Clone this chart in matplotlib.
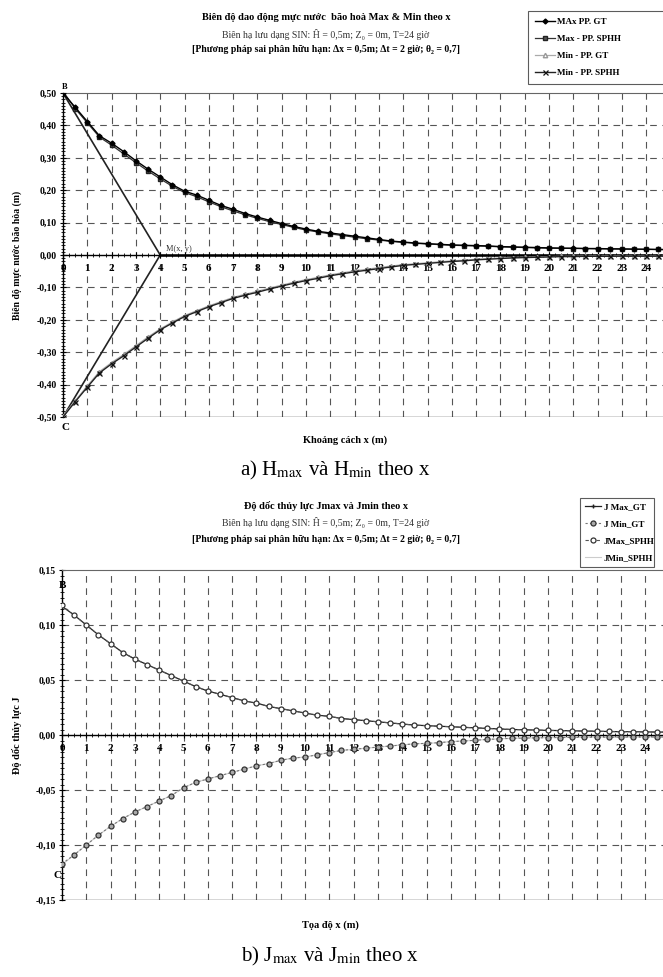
import matplotlib
matplotlib.use("Agg")
import matplotlib.pyplot as plt
import numpy as np

plt.rcParams['font.family'] = ['Liberation Serif', 'DejaVu Serif']
plt.rcParams['mathtext.fontset'] = 'stix'

# ---------------- data ----------------
x_vals = [i * 0.5 for i in range(51)]
x_ticks = list(range(0, 26))

h_max_gt = [0.500, 0.456, 0.412, 0.368, 0.345, 0.319, 0.291, 0.265, 0.241, 0.217,
            0.197, 0.185, 0.169, 0.153, 0.141, 0.128, 0.117, 0.107, 0.097, 0.088,
            0.080, 0.073, 0.068, 0.063, 0.058, 0.053, 0.048, 0.043, 0.040, 0.037,
            0.035, 0.033, 0.031, 0.030, 0.029, 0.028, 0.026, 0.025, 0.024, 0.023,
            0.022, 0.021, 0.021, 0.020, 0.020, 0.019, 0.019, 0.018, 0.018, 0.017, 0.017]
h_max_sphh = [0.505, 0.452, 0.408, 0.364, 0.339, 0.312, 0.285, 0.259, 0.235, 0.212,
              0.193, 0.180, 0.164, 0.149, 0.136, 0.124, 0.113, 0.103, 0.094, 0.085,
              0.077, 0.071, 0.065, 0.060, 0.055, 0.050, 0.046, 0.042, 0.039, 0.036,
              0.034, 0.032, 0.030, 0.029, 0.028, 0.027, 0.025, 0.024, 0.023, 0.022,
              0.021, 0.021, 0.020, 0.020, 0.019, 0.019, 0.018, 0.018, 0.017, 0.017, 0.016]
h_min_gt = [-0.497, -0.450, -0.404, -0.360, -0.332, -0.307, -0.280, -0.253, -0.228, -0.207,
            -0.187, -0.172, -0.157, -0.144, -0.131, -0.121, -0.112, -0.102, -0.093, -0.084,
            -0.076, -0.069, -0.061, -0.055, -0.049, -0.044, -0.039, -0.034, -0.030, -0.027,
            -0.024, -0.021, -0.018, -0.016, -0.013, -0.011, -0.009, -0.008, -0.007, -0.006,
            -0.005, -0.004, -0.004, -0.003, -0.003, -0.003, -0.002, -0.002, -0.002, -0.002, -0.001]
h_min_sphh = [-0.500, -0.453, -0.408, -0.364, -0.336, -0.311, -0.284, -0.257, -0.231, -0.210,
              -0.190, -0.175, -0.160, -0.147, -0.134, -0.124, -0.115, -0.105, -0.096, -0.087,
              -0.079, -0.072, -0.064, -0.058, -0.052, -0.047, -0.042, -0.037, -0.032, -0.029,
              -0.026, -0.023, -0.020, -0.018, -0.015, -0.013, -0.011, -0.009, -0.008, -0.007,
              -0.006, -0.005, -0.005, -0.004, -0.004, -0.004, -0.003, -0.003, -0.003, -0.003, -0.002]

# construction lines B-M-C (M at x=4 on the zero line)
guide_x = [0, 4, 0]
guide_y = [0.5, 0.0, -0.5]
zero_x = [4, 26]
zero_y = [0.0, 0.0]

j_max_gt = [0.117, 0.109, 0.100, 0.091, 0.083, 0.075, 0.069, 0.064, 0.059, 0.054,
            0.049, 0.044, 0.040, 0.037, 0.034, 0.031, 0.029, 0.026, 0.024, 0.022,
            0.020, 0.018, 0.017, 0.015, 0.014, 0.013, 0.012, 0.011, 0.010, 0.009,
            0.0085, 0.008, 0.0075, 0.007, 0.0065, 0.006, 0.0055, 0.005, 0.0048, 0.0045,
            0.0042, 0.004, 0.0038, 0.0036, 0.0034, 0.0032, 0.003, 0.003, 0.0028, 0.0027, 0.0026]
j_max_sphh = [0.118, 0.109, 0.100, 0.091, 0.083, 0.075, 0.069, 0.064, 0.059, 0.054,
              0.049, 0.044, 0.040, 0.037, 0.034, 0.031, 0.029, 0.026, 0.024, 0.022,
              0.020, 0.018, 0.017, 0.015, 0.014, 0.013, 0.012, 0.011, 0.010, 0.009,
              0.0085, 0.008, 0.0075, 0.007, 0.0065, 0.006, 0.0055, 0.005, 0.0048, 0.0045,
              0.0042, 0.004, 0.0038, 0.0036, 0.0034, 0.0032, 0.003, 0.003, 0.0028, 0.0027, 0.0026]
j_min_gt = [-0.117, -0.109, -0.100, -0.091, -0.083, -0.076, -0.070, -0.065, -0.060, -0.055,
            -0.048, -0.043, -0.040, -0.037, -0.034, -0.031, -0.028, -0.026, -0.023, -0.021,
            -0.020, -0.018, -0.016, -0.014, -0.013, -0.012, -0.011, -0.010, -0.009, -0.008,
            -0.0076, -0.007, -0.006, -0.0055, -0.0048, -0.004, -0.0035, -0.003, -0.0028, -0.0026,
            -0.0024, -0.0023, -0.0022, -0.0021, -0.002, -0.002, -0.0019, -0.0019, -0.0018, -0.0018, -0.0018]
j_min_sphh = [-0.118, -0.109, -0.100, -0.091, -0.083, -0.076, -0.070, -0.065, -0.060, -0.055,
              -0.048, -0.043, -0.040, -0.037, -0.034, -0.031, -0.028, -0.026, -0.023, -0.021,
              -0.020, -0.018, -0.016, -0.014, -0.013, -0.012, -0.011, -0.010, -0.009, -0.008,
              -0.0076, -0.007, -0.006, -0.0055, -0.0048, -0.004, -0.0035, -0.003, -0.0028, -0.0026,
              -0.0024, -0.0023, -0.0022, -0.0021, -0.002, -0.002, -0.0019, -0.0019, -0.0018, -0.0018, -0.0018]

h_yticks = [0.5, 0.4, 0.3, 0.2, 0.1, 0.0, -0.1, -0.2, -0.3, -0.4, -0.5]
j_yticks = [0.15, 0.10, 0.05, 0.0, -0.05, -0.10, -0.15]

# ---------------- figure ----------------
W, H = 663, 977
fig = plt.figure(figsize=(W / 100, H / 100), dpi=100)
fig.patch.set_facecolor('white')


def fx(px):
    return px / W


def fy(py):
    return 1 - py / H


unit = 24.3
xmax = 26

grid_kw = dict(color='#555555', lw=0.8, linestyle=(0, (6, 5)))


def setup_axes(ax, ylo, yhi, yticks, minor_step, fmt):
    ax.set_xlim(0, xmax)
    ax.set_ylim(ylo, yhi)
    ax.set_xticks(x_ticks)
    ax.set_xticklabels([str(t) for t in x_ticks])
    ax.set_yticks(yticks)
    ax.set_yticklabels([fmt(v) for v in yticks])
    ax.set_xticks(np.arange(0, xmax + 0.01, 0.25), minor=True)
    ax.set_yticks(np.arange(ylo, yhi + 1e-9, minor_step), minor=True)
    ax.spines['bottom'].set_position(('data', 0))
    ax.spines['bottom'].set_linewidth(1.0)
    ax.spines['left'].set_linewidth(1.0)
    ax.spines['top'].set_color('#666666')
    ax.spines['right'].set_visible(False)
    ax.tick_params(axis='x', which='major', direction='inout', length=5, pad=4,
                   labelsize=8)
    ax.tick_params(axis='x', which='minor', direction='inout', length=3)
    ax.tick_params(axis='y', which='major', direction='inout', length=5, pad=2,
                   labelsize=7)
    ax.tick_params(axis='y', which='minor', direction='inout', length=3)
    for lab in ax.get_xticklabels() + ax.get_yticklabels():
        lab.set_fontweight('bold')
    for xv in x_ticks[1:]:
        ax.axvline(xv, zorder=0, **grid_kw)
    for yv in yticks:
        if ylo < yv < yhi and yv != 0:
            ax.axhline(yv, zorder=0, **grid_kw)
    ax.axhline(ylo, color='#333333', lw=1.0, zorder=1)


def comma2(v):
    return ('%.2f' % v).replace('.', ',').replace('-0,00', '0,00')


# ---------- top chart ----------
ax1 = fig.add_axes([fx(63), fy(417), 26 * unit / W, (417 - 93) / H])
setup_axes(ax1, -0.5, 0.5, h_yticks, 0.01, comma2)

ax1.plot(guide_x, guide_y, color='#222222', lw=1.2, zorder=2)
ax1.plot(zero_x, zero_y, color='black', lw=1.8, zorder=2)
l1, = ax1.plot(x_vals, h_max_gt, color='black', lw=1.0, marker='D', ms=2.5,
               mfc='black', mec='black', zorder=4, label='MAx PP. GT')
l2, = ax1.plot(x_vals, h_max_sphh, color='#333333', lw=0.9, marker='s', ms=3.3,
               mfc='#555555', mec='#222222', zorder=3, label='Max - PP. SPHH')
l3, = ax1.plot(x_vals, h_min_gt, color='#aaaaaa', lw=0.9, marker='^', ms=3.2,
               mfc='white', mec='#999999', zorder=3, label='Min - PP. GT')
l4, = ax1.plot(x_vals, h_min_sphh, color='#222222', lw=1.0, marker='x', ms=3.6,
               mew=0.9, mec='#111111', zorder=4, label='Min - PP. SPHH')

ax1.text(4.25, 0.012, 'M(x, y)', fontsize=6, color='#333333')
ax1.text(-0.05, -0.52, 'C', fontsize=8, fontweight='bold', ha='left', va='top')
ax1.text(-0.05, 0.505, 'B', fontsize=6, fontweight='bold', ha='left', va='bottom')

leg1 = fig.legend(handles=[l1, l2, l3, l4], loc='upper left',
                  bbox_to_anchor=(fx(523), fy(6), fx(150), 0.0), mode='expand',
                  prop={'weight': 'bold', 'size': 6.5}, frameon=True,
                  fancybox=False, edgecolor='#333333', handlelength=2.2,
                  labelspacing=0.95, borderpad=0.8, handletextpad=0.3)
leg1.get_frame().set_linewidth(0.8)

fig.text(fx(326), fy(17), 'Biên độ dao động mực nước  bão hoà Max & Min theo x',
         ha='center', va='center', fontsize=7.5, fontweight='bold')
fig.text(fx(326), fy(34), 'Biên hạ lưu dạng SIN: Ĥ = 0,5m; Z₀ = 0m, T=24 giờ',
         ha='center', va='center', fontsize=7, color='#333333')
fig.text(fx(326), fy(50), '[Phương pháp sai phân hữu hạn: Δx = 0,5m; Δt = 2 giờ; θ₂ = 0,7]',
         ha='center', va='center', fontsize=7, fontweight='bold')
fig.text(fx(17), fy(255), 'Biên độ mực nước bão hòa (m)', rotation=90,
         ha='center', va='center', fontsize=7, fontweight='bold')
fig.text(fx(345), fy(440), 'Khoảng cách x (m)', ha='center', va='center',
         fontsize=7.5, fontweight='bold')
fig.text(fx(335), fy(470), r'a) H$_{\mathrm{max}}$ và H$_{\mathrm{min}}$ theo x',
         ha='center', va='center', fontsize=15)

# ---------- bottom chart ----------
ax2 = fig.add_axes([fx(62), fy(900), 26 * unit / W, (900 - 570) / H])
setup_axes(ax2, -0.15, 0.15, j_yticks, 0.005, comma2)

m1, = ax2.plot(x_vals, j_max_gt, color='#222222', lw=0.9, marker='+', ms=3,
               zorder=3, label='J Max_GT')
m2, = ax2.plot(x_vals, j_min_gt, color='#777777', lw=0.8, linestyle=(0, (2, 2)),
               marker='o', ms=3.6, mfc='#aaaaaa', mec='#333333', mew=0.9, zorder=3,
               label='J Min_GT')
m3, = ax2.plot(x_vals, j_max_sphh, color='#555555', lw=0.8, linestyle=(0, (3, 2)),
               marker='o', ms=3.6, mfc='white', mec='#333333', mew=0.9, zorder=4,
               label='JMax_SPHH')
m4, = ax2.plot(x_vals, j_min_sphh, color='#cccccc', lw=0.8, zorder=2,
               label='JMin_SPHH')

ax2.text(-0.15, 0.136, 'B', fontsize=8, fontweight='bold', ha='left', va='center')
ax2.text(-0.35, -0.128, 'C', fontsize=8, fontweight='bold', ha='left', va='center')

leg2 = fig.legend(handles=[m1, m2, m3, m4], loc='upper left',
                  bbox_to_anchor=(fx(575), fy(493), fx(84), 0.0), mode='expand',
                  prop={'weight': 'bold', 'size': 6.5}, frameon=True,
                  fancybox=False, edgecolor='#333333', handlelength=1.8,
                  labelspacing=0.95, borderpad=0.6, handletextpad=0.3)
leg2.get_frame().set_linewidth(0.8)

fig.text(fx(326), fy(506), 'Độ dốc thủy lực Jmax và Jmin theo x',
         ha='center', va='center', fontsize=7.5, fontweight='bold')
fig.text(fx(326), fy(523), 'Biên hạ lưu dạng SIN: Ĥ = 0,5m; Z₀ = 0m, T=24 giờ',
         ha='center', va='center', fontsize=7, color='#333333')
fig.text(fx(326), fy(540), '[Phương pháp sai phân hữu hạn: Δx = 0,5m; Δt = 2 giờ; θ₂ = 0,7]',
         ha='center', va='center', fontsize=7, fontweight='bold')
fig.text(fx(17), fy(735), 'Độ dốc thủy lực J', rotation=90,
         ha='center', va='center', fontsize=7.5, fontweight='bold')
fig.text(fx(330), fy(925), 'Tọa độ x (m)', ha='center', va='center',
         fontsize=7.5, fontweight='bold')
fig.text(fx(330), fy(956), r'b) J$_{\mathrm{max}}$ và J$_{\mathrm{min}}$ theo x',
         ha='center', va='center', fontsize=15)

fig.savefig('out.png', dpi=100)
